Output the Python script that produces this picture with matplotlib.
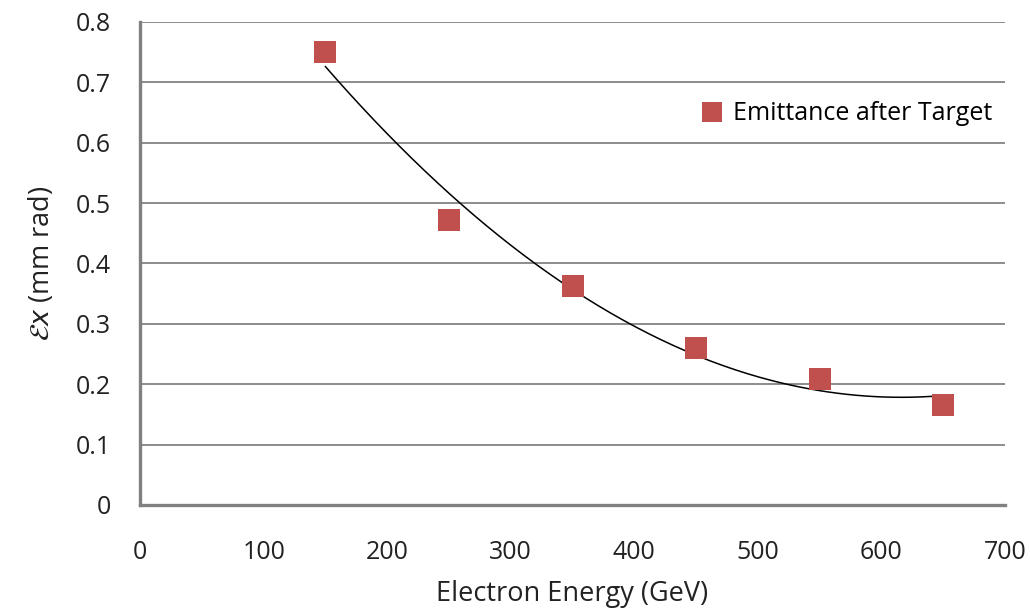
import numpy as np
import matplotlib.pyplot as plt

# Beam emittance vs electron energy
energy = [150, 250, 350, 450, 550, 650]            # GeV
emittance = [0.750, 0.472, 0.362, 0.260, 0.208, 0.166]  # mm rad

x_ticks = [0, 100, 200, 300, 400, 500, 600, 700]
y_ticks = [0, 0.1, 0.2, 0.3, 0.4, 0.5, 0.6, 0.7, 0.8]
y_tick_labels = ['0', '0.1', '0.2', '0.3', '0.4', '0.5', '0.6', '0.7', '0.8']

plt.rcParams['font.family'] = ['Open Sans', 'DejaVu Sans']

fig = plt.figure(figsize=(10.3, 6.11), dpi=100)
ax = fig.add_axes([0.136, 0.1735, 0.8397, 0.7905])

# 2nd order polynomial trendline
coef = np.polyfit(energy, emittance, 2)
xs = np.linspace(energy[0], energy[-1], 200)
ax.plot(xs, np.polyval(coef, xs), color='black', linewidth=1.1, zorder=3)

ax.plot(energy, emittance, linestyle='none', marker='s', markersize=15.5,
        color='#C0504D', markeredgewidth=0, label='Emittance after Target', zorder=4)

ax.set_xlim(0, 700)
ax.set_ylim(0, 0.8)
ax.set_xticks(x_ticks)
ax.set_yticks(y_ticks)
ax.set_yticklabels(y_tick_labels)
ax.yaxis.grid(True, color='#8c8c8c', linewidth=1.4)
ax.set_axisbelow(True)

for side in ['top', 'right']:
    ax.spines[side].set_visible(False)
for side in ['left', 'bottom']:
    ax.spines[side].set_color('#808080')
    ax.spines[side].set_linewidth(2.4)
ax.tick_params(length=0, labelsize=18, colors='#222222')
ax.tick_params(axis='x', pad=25)
ax.tick_params(axis='y', pad=21)

ax.set_xlabel('Electron Energy (GeV)', fontsize=19.5, color='#222222', labelpad=11)
ax.set_ylabel(r'$\mathcal{E}\mathit{x}$ (mm rad)', fontsize=19.5, color='#222222', labelpad=14)

ax.legend(loc='center right', bbox_to_anchor=(1.0, 0.81), frameon=False,
          fontsize=18, handletextpad=-0.15, markerscale=0.95, borderaxespad=0.1)

fig.savefig('out.png', dpi=100)
